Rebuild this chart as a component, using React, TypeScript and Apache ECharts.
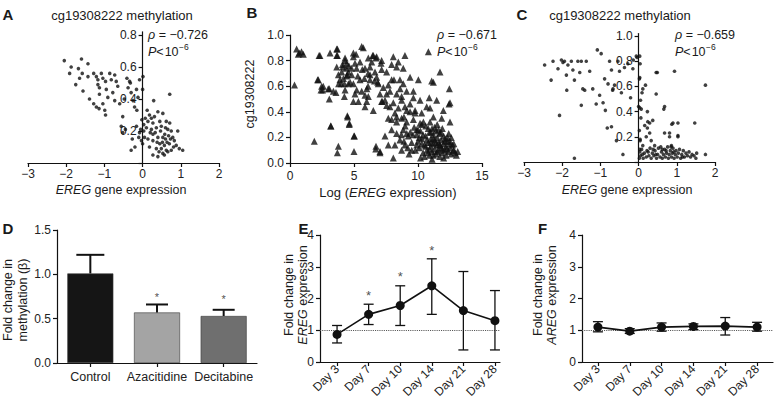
import React, { useEffect, useRef } from 'react';
import * as echarts from 'echarts';

const FONT = '"Liberation Sans", Arial, Helvetica, sans-serif';
const INK = '#1a1a1a';

// ---------- Panel A: EREG gene expression vs cg19308222 methylation ----------
const aPoints: number[][] = [
  [-2.05, 0.64], [-1.6, 0.65], [-1.43, 0.62], [-1.87, 0.6], [-1.91, 0.56], [-1.68, 0.59], [-1.58, 0.56],
  [-1.65, 0.53], [-1.75, 0.49], [-1.43, 0.54], [-1.56, 0.45], [-1.39, 0.4], [-1.28, 0.56], [-1.21, 0.54],
  [-1.17, 0.52], [-1.17, 0.49], [-1.08, 0.56], [-1.04, 0.53], [-0.97, 0.51], [-1.13, 0.47], [-0.95, 0.46],
  [-0.91, 0.41], [-1.21, 0.35], [-1.14, 0.34], [-1.28, 0.37], [-1.04, 0.37], [-1.13, 0.43], [-0.97, 0.3],
  [-0.99, 0.33], [-0.86, 0.56], [-0.82, 0.52], [-0.73, 0.55], [-0.69, 0.51], [-0.65, 0.48], [-0.78, 0.44],
  [-0.73, 0.39], [-0.6, 0.37], [-0.52, 0.29], [-0.41, 0.53], [-0.34, 0.51], [-0.38, 0.47], [-0.3, 0.44],
  [-0.25, 0.39], [-0.21, 0.35], [-0.16, 0.46], [-0.12, 0.41], [-0.08, 0.52], [-0.15, 0.33], [-0.56, 0.23],
  [-0.52, 0.19], [-0.45, 0.21], [-0.3, 0.08], [-0.27, 0.15], [-0.16, 0.23], [-0.08, 0.19], [-0.03, 0.14],
  [0.01, 0.54], [0.0, 0.46], [0.71, 0.43], [0.29, 0.39], [0.4, 0.32], [0.53, 0.31], [0.18, 0.3], [0.23, 0.28],
  [0.14, 0.26], [0.27, 0.25], [0.45, 0.26], [0.62, 0.26], [0.71, 0.25], [0.1, 0.22], [0.23, 0.21], [0.36, 0.22],
  [0.49, 0.23], [0.66, 0.21], [0.75, 0.2], [0.92, 0.2], [0.27, 0.18], [0.4, 0.16], [0.53, 0.16], [0.6, 0.15],
  [0.79, 0.16], [0.14, 0.15], [0.27, 0.14], [0.45, 0.12], [0.57, 0.11], [0.7, 0.12], [0.88, 0.11], [0.96, 0.09],
  [1.05, 0.08], [0.18, 0.1], [0.36, 0.09], [0.49, 0.09], [0.62, 0.08], [0.75, 0.08], [0.27, 0.05], [0.4, 0.04],
  [0.53, 0.06], [0.66, 0.07], [0.05, 0.16], [0.03, 0.2], [0.07, 0.28], [0.03, 0.24], [-0.05, 0.21], [-0.1, 0.16],
  [0.0, 0.12], [0.33, 0.19], [0.47, 0.2], [0.58, 0.18], [0.68, 0.17], [0.83, 0.14], [0.52, 0.13], [0.38, 0.13],
  [0.64, 0.13], [0.73, 0.15], [0.43, 0.07], [0.57, 0.05], [0.81, 0.1], [0.2, 0.19], [0.31, 0.29], [0.12, 0.33],
  [0.6, 0.22], [-0.02, 0.27], [-0.2, 0.1], [-0.32, 0.5], [-0.48, 0.4],
];

// ---------- Panel B: Log(EREG expression) vs cg19308222 ----------
const bPoints: number[][] = [
  [0.35, 0.61], [0.52, 0.89], [0.73, 0.86], [0.9, 0.87], [1.04, 0.85], [0.65, 0.85], [1.9, 0.17], [2.21, 0.65],
  [2.34, 0.84], [2.47, 0.6], [2.55, 0.57], [3.13, 0.86], [3.07, 0.58], [3.2, 0.29], [3.39, 0.56], [3.7, 0.89],
  [3.7, 0.84], [3.78, 0.13], [3.7, 0.08], [3.9, 0.65], [4.0, 0.62], [4.12, 0.75], [4.3, 0.82], [4.43, 0.78],
  [4.56, 0.71], [4.5, 0.36], [4.63, 0.3], [4.82, 0.69], [4.7, 0.63], [4.95, 0.83], [5.08, 0.54], [5.0, 0.21],
  [5.0, 0.09], [5.16, 0.85], [5.2, 0.74], [5.47, 0.65], [5.6, 0.91], [5.73, 0.9], [5.86, 0.74], [6.0, 0.58],
  [6.12, 0.52], [6.12, 0.82], [6.25, 0.69], [6.46, 0.84], [6.72, 0.82], [6.77, 0.67], [6.85, 0.63], [6.72, 0.13],
  [7.03, 0.08], [7.16, 0.73], [7.29, 0.59], [7.42, 0.49], [7.55, 0.54], [7.68, 0.61], [7.81, 0.44], [7.94, 0.77],
  [8.07, 0.83], [8.12, 0.65], [8.2, 0.39], [8.33, 0.36], [8.46, 0.79], [8.6, 0.58], [8.72, 0.49], [8.85, 0.74],
  [8.9, 0.36], [9.12, 0.41], [9.12, 0.23], [9.38, 0.46], [9.64, 0.56], [9.77, 0.39], [10.03, 0.65], [10.16, 0.49],
  [10.42, 0.32], [10.81, 0.87], [10.94, 0.43], [11.07, 0.64], [11.46, 0.49], [11.72, 0.71], [11.85, 0.35],
  [11.98, 0.41], [12.45, 0.58], [12.42, 0.46], [12.5, 0.32],
  [2.27, 0.84], [2.16, 0.65], [2.42, 0.57], [2.6, 0.6], [2.99, 0.58], [3.07, 0.5], [3.18, 0.29], [3.59, 0.55],
  [3.65, 0.89], [3.65, 0.84], [4.04, 0.71], [4.17, 0.66], [4.25, 0.52], [4.3, 0.8], [4.38, 0.74], [4.48, 0.69],
  [4.25, 0.62], [4.56, 0.62], [4.95, 0.62], [4.48, 0.37], [4.64, 0.31], [4.95, 0.86], [5.08, 0.78], [5.21, 0.57],
  [4.95, 0.48], [5.34, 0.48], [5.03, 0.21], [5.47, 0.79], [5.65, 0.73], [5.81, 0.66], [5.6, 0.56], [5.86, 0.53],
  [5.99, 0.48], [5.86, 0.44], [6.25, 0.75], [6.38, 0.79], [6.51, 0.84], [6.77, 0.83], [6.64, 0.71], [6.9, 0.62],
  [6.6, 0.64], [7.11, 0.78], [7.03, 0.54], [7.21, 0.48], [6.51, 0.41], [6.7, 0.11], [4.43, 0.68], [3.78, 0.69],
  [3.8, 0.62], [3.65, 0.75], [4.1, 0.77], [4.6, 0.76], [4.8, 0.74], [4.3, 0.57], [5.3, 0.68], [6.1, 0.6],
  [6.25, 0.65], [6.1, 0.7],
  [7.16, 0.8], [8.33, 0.75], [8.98, 0.84], [7.55, 0.71], [7.94, 0.65], [8.59, 0.65], [8.85, 0.62], [9.38, 0.67],
  [7.81, 0.56], [8.33, 0.54], [8.72, 0.52], [9.11, 0.56], [9.64, 0.51], [7.16, 0.48], [7.55, 0.45], [8.07, 0.47],
  [8.46, 0.43], [8.98, 0.44], [9.38, 0.4], [9.77, 0.41], [10.29, 0.39], [10.68, 0.44], [10.94, 0.32], [11.2, 0.36],
  [10.88, 0.51], [11.2, 0.63], [12.5, 0.47], [7.68, 0.35], [7.94, 0.34], [8.33, 0.32], [8.72, 0.35], [9.11, 0.32],
  [9.64, 0.34], [10.16, 0.31], [7.03, 0.09], [8.07, 0.04], [7.68, 0.14], [7.42, 0.21], [7.94, 0.26], [8.33, 0.23],
  [8.59, 0.18], [8.2, 0.14], [8.85, 0.26], [8.98, 0.14], [9.24, 0.21], [8.72, 0.1], [9.51, 0.1], [9.9, 0.26],
  [11.72, 0.14], [12.24, 0.11], [12.76, 0.1], [12.5, 0.15], [12.11, 0.19],
  [9.7, 0.28], [9.9, 0.22], [10.0, 0.17], [10.1, 0.12], [10.2, 0.25], [10.3, 0.19], [10.4, 0.08], [10.5, 0.14],
  [10.6, 0.21], [10.6, 0.29], [10.7, 0.1], [10.8, 0.16], [10.9, 0.24], [10.9, 0.06], [11.0, 0.13], [11.0, 0.19],
  [11.1, 0.27], [11.1, 0.09], [11.2, 0.15], [11.2, 0.22], [11.3, 0.11], [11.3, 0.18], [11.4, 0.07], [11.4, 0.25],
  [11.5, 0.14], [11.5, 0.2], [11.6, 0.1], [11.6, 0.16], [11.7, 0.23], [11.7, 0.05], [11.8, 0.12], [11.8, 0.18],
  [11.9, 0.08], [12.0, 0.15], [12.0, 0.21], [12.1, 0.1], [12.2, 0.06], [12.2, 0.13], [12.3, 0.17], [12.4, 0.09],
  [12.5, 0.12], [12.6, 0.07], [12.7, 0.14], [12.8, 0.1], [12.9, 0.08], [13.0, 0.06], [13.1, 0.09], [12.6, 0.2],
  [10.3, 0.3], [10.8, 0.27], [11.5, 0.3], [11.9, 0.27], [10.5, 0.05], [11.1, 0.03], [9.8, 0.1], [9.5, 0.16],
  [9.3, 0.07], [10.2, 0.04], [11.3, 0.28], [12.4, 0.23], [12.0, 0.04], [11.6, 0.26], [10.7, 0.18], [10.4, 0.22],
  [11.0, 0.24], [10.1, 0.2], [9.6, 0.22], [11.8, 0.24], [12.3, 0.2], [10.9, 0.11], [11.4, 0.16], [11.2, 0.19],
  [10.6, 0.13], [11.7, 0.14], [12.1, 0.17], [10.0, 0.26], [9.9, 0.14], [11.5, 0.09], [12.8, 0.15], [10.8, 0.08],
  [11.9, 0.11], [11.2, 0.06], [10.3, 0.15], [11.0, 0.16], [12.5, 0.17], [9.4, 0.24], [9.2, 0.12], [8.9, 0.17],
  [8.7, 0.22], [9.0, 0.29],
];

// ---------- Panel C: EREG gene expression vs cg19308222 methylation ----------
const cPoints: number[][] = [
  [-2.46, 0.77], [-2.24, 0.8], [-2.29, 0.65], [-2.11, 0.74], [-2.02, 0.81], [-1.98, 0.79], [-1.94, 0.8],
  [-1.89, 0.69], [-1.85, 0.77], [-1.88, 0.57], [-2.07, 0.37], [-1.76, 0.8], [-1.72, 0.73], [-1.68, 0.03],
  [-1.68, 0.65], [-1.59, 0.8], [-1.54, 0.71], [-1.5, 0.8], [-1.46, 0.58], [-1.41, 0.57], [-1.5, 0.45],
  [-1.37, 0.8], [-1.28, 0.72], [-1.2, 0.58], [-1.11, 0.46], [-1.08, 0.89], [-1.02, 0.53], [-0.98, 0.86],
  [-0.93, 0.47], [-0.89, 0.66], [-0.87, 0.41], [-0.8, 0.62], [-0.76, 0.8], [-0.71, 0.73], [-0.67, 0.58],
  [-0.68, 0.57], [-0.63, 0.61], [-0.82, 0.27], [-0.71, 0.28], [-0.58, 0.17], [-0.54, 0.8], [-0.5, 0.72],
  [-0.45, 0.55], [-0.41, 0.06], [-0.37, 0.75], [-0.28, 0.78], [-0.21, 0.51], [-0.15, 0.74], [-0.14, 0.81],
  [-0.06, 0.84], [-0.04, 0.83], [0.03, 0.67], [0.0, 0.44], [0.07, 0.42], [0.11, 0.58], [0.16, 0.29],
  [0.24, 0.32], [0.29, 0.23], [0.33, 0.17], [0.49, 0.71], [0.68, 0.44], [0.9, 0.31], [1.03, 0.31], [0.94, 0.72],
  [0.81, 0.23], [1.03, 0.21], [1.47, 0.31], [1.75, 0.61], [1.75, 0.06],
  [0.46, 0.71], [0.18, 0.61], [0.09, 0.55], [0.46, 0.54], [0.66, 0.42], [0.23, 0.4], [0.37, 0.33], [0.29, 0.31],
  [0.23, 0.27], [0.87, 0.3], [0.2, 0.2], [0.68, 0.23], [0.81, 0.2], [1.03, 0.2], [0.86, 0.13], [0.11, 0.13],
  [0.42, 0.13], [0.04, 0.18],
  [0.03, 0.84], [0.04, 0.78], [0.02, 0.66], [0.05, 0.49], [0.03, 0.43], [0.06, 0.35], [0.02, 0.25], [0.04, 0.17],
  [0.03, 0.1],
  [0.05, 0.05], [0.08, 0.1], [0.12, 0.03], [0.15, 0.07], [0.2, 0.04], [0.22, 0.09], [0.27, 0.05], [0.3, 0.11],
  [0.33, 0.03], [0.36, 0.07], [0.4, 0.05], [0.43, 0.09], [0.47, 0.03], [0.5, 0.06], [0.52, 0.11], [0.56, 0.04],
  [0.6, 0.08], [0.62, 0.03], [0.65, 0.06], [0.68, 0.1], [0.7, 0.04], [0.73, 0.07], [0.76, 0.12], [0.78, 0.03],
  [0.8, 0.06], [0.83, 0.09], [0.86, 0.04], [0.88, 0.07], [0.9, 0.11], [0.93, 0.03], [0.96, 0.06], [0.98, 0.09],
  [1.01, 0.04], [1.04, 0.07], [1.07, 0.1], [1.1, 0.03], [1.13, 0.06], [1.17, 0.09], [1.2, 0.04], [1.24, 0.07],
  [1.28, 0.05], [1.32, 0.08], [1.36, 0.04], [1.4, 0.06], [1.45, 0.05], [1.5, 0.03], [1.52, 0.07], [0.02, 0.03],
  [0.03, 0.08], [0.1, 0.06], [0.25, 0.08], [0.45, 0.06], [0.58, 0.12], [0.72, 0.09], [0.92, 0.08], [1.15, 0.04],
  [0.38, 0.1], [0.62, 0.1], [0.85, 0.12],
];

// ---------- Panel D ----------
const dCategories = ['Control', 'Azacitidine', 'Decitabine'];
const dMeans = [1.01, 0.57, 0.53];
const dUpper = [1.22, 0.66, 0.6];
const dStars = [null, 0.74, 0.72];
const dColors = ['#151515', '#a4a4a4', '#6f6f6f'];

// ---------- Panels E and F ----------
const days = ['Day 3', 'Day 7', 'Day 10', 'Day 14', 'Day 21', 'Day 28'];
const eMeans = [0.87, 1.5, 1.78, 2.4, 1.62, 1.3];
const eLower = [0.6, 1.18, 1.15, 1.5, 0.38, 0.38];
const eUpper = [1.15, 1.82, 2.4, 3.25, 2.85, 2.25];
const eStars = [null, 2.1, 2.7, 3.52, null, null];
const fMeans = [1.1, 0.97, 1.1, 1.12, 1.13, 1.1];
const fLower = [0.95, 0.9, 0.97, 1.02, 0.85, 0.97];
const fUpper = [1.27, 1.05, 1.23, 1.2, 1.4, 1.25];

const dayIdx = days.map((_, i) => i);

function fmt(v: number, dec: number) {
  const s = Math.abs(v).toFixed(dec);
  return v < 0 ? '\u2212' + s : s;
}

function measure(text: string, font: string) {
  const c = document.createElement('canvas').getContext('2d');
  if (!c) return text.length * 6;
  c.font = font;
  return c.measureText(text).width;
}

const lineStyle = { color: '#111', width: 1.2 };

function vAxis(gridIndex: number, min: number, max: number, labels: number[], ticks: number[],
  formatter: (v: number) => string, opts: any = {}) {
  return {
    type: 'value', gridIndex, min, max, offset: opts.offset || 0,
    axisLine: { show: true, onZero: opts.onZero !== undefined ? opts.onZero : true, lineStyle },
    axisTick: { show: true, length: 4, lineStyle, customValues: ticks },
    axisLabel: {
      show: true, color: '#222', fontSize: 12, fontFamily: FONT, margin: opts.margin || 6,
      customValues: labels, formatter, rotate: opts.rotate || 0,
    },
    splitLine: { show: false },
  };
}

function errorSeries(xi: number, data: number[][], cap: (i: number) => number, lw: number) {
  return {
    type: 'custom', xAxisIndex: xi, yAxisIndex: xi, data, z: 5,
    itemStyle: { color: '#111' },
    renderItem: (_p: any, api: any) => {
      const x = api.value(0);
      const lo = api.coord([x, api.value(1)]);
      const hi = api.coord([x, api.value(2)]);
      const hw = cap(x);
      const st = { stroke: '#111', lineWidth: lw };
      const children: any[] = [
        { type: 'line', shape: { x1: lo[0], y1: lo[1], x2: hi[0], y2: hi[1] }, style: st },
        { type: 'line', shape: { x1: hi[0] - hw, y1: hi[1], x2: hi[0] + hw, y2: hi[1] }, style: st },
      ];
      if (api.value(3) === 1) {
        children.push({ type: 'line', shape: { x1: lo[0] - hw, y1: lo[1], x2: lo[0] + hw, y2: lo[1] }, style: st });
      }
      return { type: 'group', children };
    },
  };
}

function starSeries(xi: number, stars: (number | null)[], size: number) {
  const data = stars.map((s, i) => (s === null ? null : [i, s])).filter((d) => d !== null);
  return {
    type: 'scatter', xAxisIndex: xi, yAxisIndex: xi, data, z: 6,
    symbol: 'circle', symbolSize: 1, itemStyle: { color: 'rgba(0,0,0,0)' },
    label: {
      show: true, position: 'inside', formatter: '*', color: '#222', fontSize: size, fontFamily: FONT,
    },
  };
}

function txt(x: number, y: number, text: string, o: any = {}) {
  const size = o.size || 12.5;
  return {
    type: 'text', x, y, rotation: o.rotation || 0, z: 100,
    style: {
      text, fontSize: size, fontFamily: FONT, fontWeight: o.weight || 'normal', fill: INK,
      align: o.align || 'center', verticalAlign: 'middle', lineHeight: o.lh || size * 1.2,
      rich: {
        it: { fontStyle: 'italic', fontSize: size, fontFamily: FONT, fill: INK, lineHeight: o.lh || size * 1.2 },
      },
    },
  };
}

function statText(x: number, rho: string) {
  const size = 12.5;
  const w = measure('P', `italic ${size}px ${FONT}`) + measure('<\u200a10', `${size}px ${FONT}`);
  return [
    txt(x, 35, `{it|\u03c1} = ${rho}`, { align: 'left' }),
    txt(x, 52, '{it|P}<\u200a10', { align: 'left' }),
    txt(x + w + 0.5, 47, '\u22126', { align: 'left', size: 8.5 }),
  ];
}

function buildOption(): any {
  const grids = [
    { left: 28, top: 31.8, width: 191, height: 131.2 },
    { left: 290, top: 35, width: 192, height: 128 },
    { left: 524, top: 33.5, width: 191, height: 128.5 },
    { left: 57, top: 230, width: 200, height: 133 },
    { left: 320, top: 235, width: 180, height: 127 },
    { left: 582, top: 235, width: 191, height: 127 },
  ].map((g) => ({ ...g, containLabel: false, outerBoundsMode: 'none' }));

  const xi = [-3, -2, -1, 0, 1, 2];
  const dayFmt = (v: number) => days[Math.round(v)] || '';
  const shiftA = -(191 * 3) / 5; // put the y axis at x = 0 of a -3..2 axis

  const xAxis = [
    vAxis(0, -3, 2, xi, xi, (v) => fmt(v, 0), { margin: 5 }),
    vAxis(1, 0, 15, [0, 5, 10, 15], [0, 5, 10, 15], (v) => fmt(v, 0), { margin: 7 }),
    vAxis(2, -3, 2, xi, xi, (v) => fmt(v, 0), { margin: 5 }),
    {
      type: 'category', gridIndex: 3, data: dCategories,
      axisLine: { show: true, lineStyle },
      axisTick: { show: true, alignWithLabel: true, length: 4, lineStyle },
      axisLabel: { color: '#222', fontSize: 12.5, fontFamily: FONT, margin: 7, interval: 0 },
      splitLine: { show: false },
    },
    vAxis(4, -0.54, 5.16, dayIdx, dayIdx, dayFmt, { rotate: 45, margin: 5 }),
    vAxis(5, -0.5, 5.5, dayIdx, dayIdx, dayFmt, { rotate: 45, margin: 5 }),
  ];

  const yAxis = [
    vAxis(0, 0, 0.82, [0.2, 0.4, 0.6, 0.8], [0, 0.2, 0.4, 0.6, 0.8], (v) => v.toFixed(1), { onZero: false, offset: shiftA }),
    vAxis(1, 0, 1, [0, 0.2, 0.4, 0.6, 0.8, 1], [0, 0.2, 0.4, 0.6, 0.8, 1], (v) => v.toFixed(1)),
    vAxis(2, 0, 1.02, [0.2, 0.4, 0.6, 0.8, 1], [0, 0.2, 0.4, 0.6, 0.8, 1], (v) => v.toFixed(1), { onZero: false, offset: shiftA }),
    vAxis(3, 0, 1.5, [0, 0.5, 1, 1.5], [0, 0.5, 1, 1.5], (v) => v.toFixed(1), { margin: 6 }),
    vAxis(4, 0, 4, [0, 1, 2, 3, 4], [0, 1, 2, 3, 4], (v) => fmt(v, 0), { onZero: false }),
    vAxis(5, 0, 4, [0, 1, 2, 3, 4], [0, 1, 2, 3, 4], (v) => fmt(v, 0), { onZero: false }),
  ];

  const dotted = {
    silent: true, symbol: 'none', label: { show: false },
    lineStyle: { type: 'dotted', color: '#555', width: 1.1 },
    data: [{ yAxis: 1 }],
  };

  const series: any[] = [
    { type: 'scatter', xAxisIndex: 0, yAxisIndex: 0, data: aPoints, symbol: 'circle', symbolSize: 3.6, itemStyle: { color: '#111' } },
    { type: 'scatter', xAxisIndex: 1, yAxisIndex: 1, data: bPoints, symbol: 'triangle', symbolSize: 7, itemStyle: { color: '#111' } },
    { type: 'scatter', xAxisIndex: 2, yAxisIndex: 2, data: cPoints, symbol: 'circle', symbolSize: 3.6, itemStyle: { color: '#111' } },
    {
      type: 'bar', xAxisIndex: 3, yAxisIndex: 3, barWidth: 46,
      data: dMeans.map((v, i) => ({ value: v, itemStyle: { color: dColors[i], borderColor: '#3a3a3a', borderWidth: 0.6 } })),
    },
    errorSeries(3, dMeans.map((m, i) => [i, m, dUpper[i], 0]), (i) => (i === 0 ? 14 : 11), 2),
    starSeries(3, dStars, 11),
    {
      type: 'line', xAxisIndex: 4, yAxisIndex: 4, data: eMeans.map((v, i) => [i, v]),
      symbol: 'circle', symbolSize: 9, z: 7, lineStyle: { color: '#111', width: 1.6 }, itemStyle: { color: '#111' },
      markLine: dotted,
    },
    errorSeries(4, eMeans.map((_, i) => [i, eLower[i], eUpper[i], 1]), () => 5, 1.3),
    starSeries(4, eStars, 13),
    {
      type: 'line', xAxisIndex: 5, yAxisIndex: 5, data: fMeans.map((v, i) => [i, v]),
      symbol: 'circle', symbolSize: 9, z: 7, lineStyle: { color: '#111', width: 1.8 }, itemStyle: { color: '#111' },
      markLine: dotted,
    },
    errorSeries(5, fMeans.map((_, i) => [i, fLower[i], fUpper[i], 1]), () => 5, 1.3),
  ];

  const graphic: any[] = [
    txt(8, 14, 'A', { size: 15, weight: 'bold' }),
    txt(252, 12, 'B', { size: 15, weight: 'bold' }),
    txt(522, 14.5, 'C', { size: 15, weight: 'bold' }),
    txt(8, 228.5, 'D', { size: 15, weight: 'bold' }),
    txt(303.5, 228.5, 'E', { size: 15, weight: 'bold' }),
    txt(542.5, 228.5, 'F', { size: 15, weight: 'bold' }),
    txt(122, 15.5, 'cg19308222 methylation', { size: 13 }),
    txt(620, 15.5, 'cg19308222 methylation', { size: 13 }),
    txt(121, 189.5, '{it|EREG} gene expression', { size: 12.5 }),
    txt(627, 189.5, '{it|EREG} gene expression', { size: 12.5 }),
    txt(388, 192, 'Log ({it|EREG} expression)', { size: 13 }),
    txt(250, 94, 'cg19308222', { size: 12.5, rotation: Math.PI / 2 }),
    txt(15, 300, 'Fold change in\nmethylation (\u03b2)', { size: 12.5, rotation: Math.PI / 2, lh: 15 }),
    txt(296, 295, 'Fold change in\n{it|EREG} expression', { size: 12.5, rotation: Math.PI / 2, lh: 13.5 }),
    txt(545, 295, 'Fold change in\n{it|AREG} expression', { size: 12.5, rotation: Math.PI / 2, lh: 13.5 }),
    ...statText(148, '\u22120.726'),
    ...statText(437, '\u22120.671'),
    ...statText(675, '\u22120.659'),
  ];

  return {
    animation: false,
    backgroundColor: '#ffffff',
    textStyle: { fontFamily: FONT },
    grid: grids,
    xAxis,
    yAxis,
    series,
    graphic,
  };
}

export default function App() {
  const ref = useRef<HTMLDivElement>(null);
  useEffect(() => {
    if (!ref.current) return;
    const chart = echarts.init(ref.current, null, { renderer: 'svg' });
    chart.setOption(buildOption());
    return () => chart.dispose();
  }, []);
  return <div ref={ref} style={{ position: 'absolute', left: 0, top: 0, width: 775, height: 409 }} />;
}
